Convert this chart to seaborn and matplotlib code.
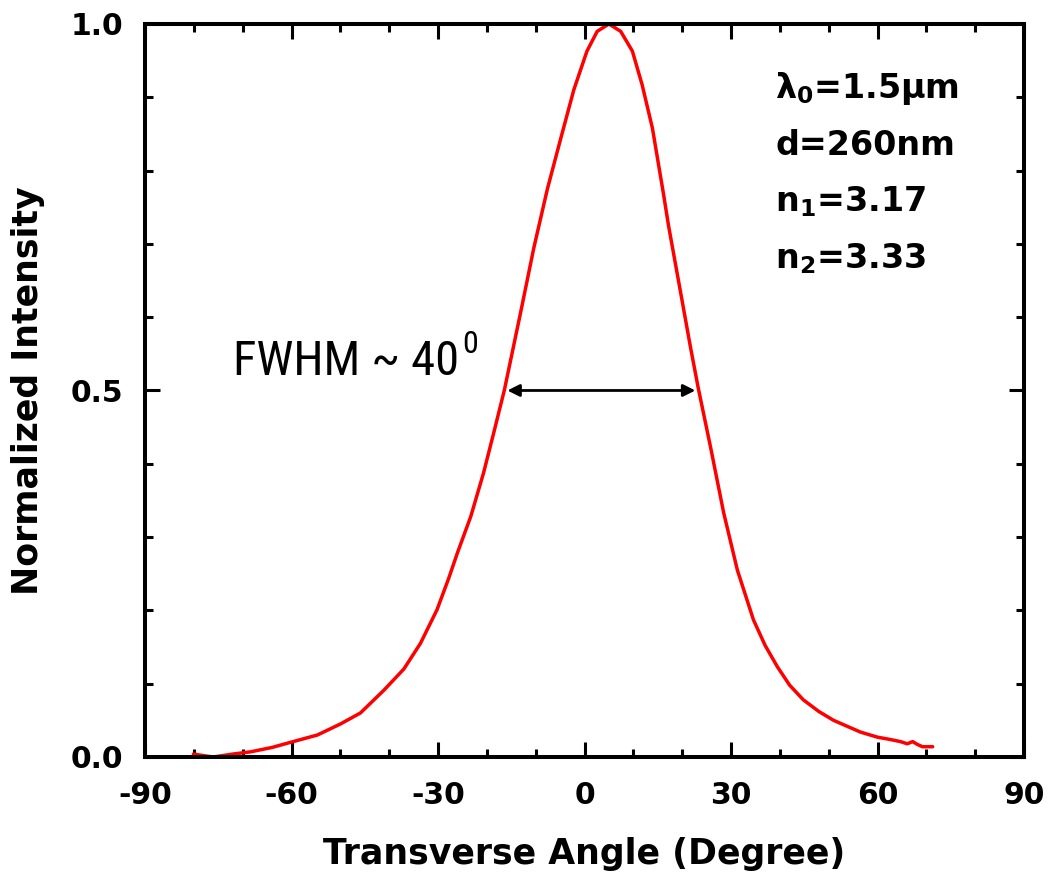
import matplotlib
matplotlib.use("Agg")
from matplotlib import pyplot as plt
from matplotlib.ticker import MultipleLocator
import seaborn as sns
import pandas as pd

# curve (angle in degrees, normalized intensity)
angle = [-80.1, -77.2, -76.0, -72.0, -68.4, -64.0, -60.2, -54.7, -50.0, -45.9,
         -41.1, -37.0, -33.6, -30.2, -27.8, -26.0, -23.3, -20.7, -18.6, -16.4,
         -13.1, -10.4, -7.6, -4.9, -2.2, 0.5, 2.6, 5.0, 7.4, 9.8,
         11.8, 13.9, 16.2, 17.2, 19.7, 21.7, 23.3, 25.8, 28.5, 31.3,
         34.6, 37.0, 39.5, 42.0, 44.8, 48.0, 51.0, 56.5, 60.0, 62.5,
         64.7, 66.1, 67.2, 68.2, 69.2, 71.3]
intensity = [0.004, 0.001, 0.000, 0.004, 0.007, 0.013, 0.020, 0.030, 0.045, 0.060,
             0.091, 0.120, 0.155, 0.201, 0.244, 0.279, 0.328, 0.387, 0.442, 0.501,
             0.606, 0.694, 0.775, 0.843, 0.910, 0.963, 0.990, 1.000, 0.990, 0.963,
             0.917, 0.858, 0.767, 0.725, 0.633, 0.559, 0.503, 0.423, 0.333, 0.255,
             0.187, 0.152, 0.123, 0.098, 0.078, 0.062, 0.050, 0.034, 0.027, 0.024,
             0.021, 0.018, 0.021, 0.017, 0.014, 0.014]

fwhm_left, fwhm_right = -15.8, 22.7
params = [r"$\lambda_0$=1.5$\mu$m", "d=260nm", "n$_1$=3.17", "n$_2$=3.33"]

sns.set_style("ticks")
plt.rcParams["font.family"] = ["DejaVu Sans"]
plt.rcParams["font.weight"] = "bold"
plt.rcParams["text.color"] = "black"
plt.rcParams["axes.labelcolor"] = "black"
plt.rcParams["xtick.color"] = "black"
plt.rcParams["ytick.color"] = "black"
plt.rcParams["axes.unicode_minus"] = False
plt.rcParams["mathtext.fontset"] = "custom"
plt.rcParams["mathtext.rm"] = "DejaVu Sans:bold"
plt.rcParams["mathtext.it"] = "DejaVu Sans:bold"
plt.rcParams["mathtext.bf"] = "DejaVu Sans:bold"

fig = plt.figure(figsize=(10.48, 8.72), dpi=100)
ax = fig.add_axes([0.1384, 0.1319, 0.8387, 0.8406])

df = pd.DataFrame({"angle": angle, "intensity": intensity})
sns.lineplot(data=df, x="angle", y="intensity", color="red", linewidth=2.5,
             sort=False, ax=ax)

ax.set_xlim(-90, 90)
ax.set_ylim(0, 1.0)
ax.xaxis.set_major_locator(MultipleLocator(30))
ax.xaxis.set_minor_locator(MultipleLocator(10))
ax.yaxis.set_major_locator(MultipleLocator(0.5))
ax.yaxis.set_minor_locator(MultipleLocator(0.1))
ax.tick_params(which="both", direction="in", top=True, right=True,
               width=2.2, color="black", labelsize=21.5)
ax.tick_params(axis="x", which="both", pad=17)
ax.tick_params(axis="y", which="both", pad=16)
ax.tick_params(which="major", length=11)
ax.tick_params(which="minor", length=6)
for s in ax.spines.values():
    s.set_linewidth(2.9)
    s.set_color("black")

ax.set_xlabel("Transverse Angle (Degree)", fontsize=25, fontweight="bold",
              labelpad=20)
ax.set_ylabel("Normalized Intensity", fontsize=25, fontweight="bold",
              labelpad=18)

# FWHM arrow and label
ax.annotate("", xy=(fwhm_left, 0.5), xytext=(fwhm_right, 0.5),
            arrowprops=dict(arrowstyle="<|-|>", color="black", lw=2,
                            mutation_scale=18, shrinkA=0, shrinkB=0))
narrow = ["Liberation Sans Narrow", "DejaVu Sans Condensed", "Roboto Condensed",
          "DejaVu Sans"]
t = ax.text(-71.9, 0.521, "FWHM ~ 40", family=narrow, fontstretch="condensed",
            fontweight="normal", fontsize=35)
ax.annotate("0", xy=(1, 1), xycoords=t, xytext=(2, -14),
            textcoords="offset points", va="bottom", ha="left",
            family=narrow, fontstretch="condensed",
            fontweight="normal", fontsize=23)

for i, s in enumerate(params):
    ax.text(39.1, 0.899 - i * 0.0775, s, fontsize=24, fontweight="bold")

fig.savefig("out.png", dpi=100)
